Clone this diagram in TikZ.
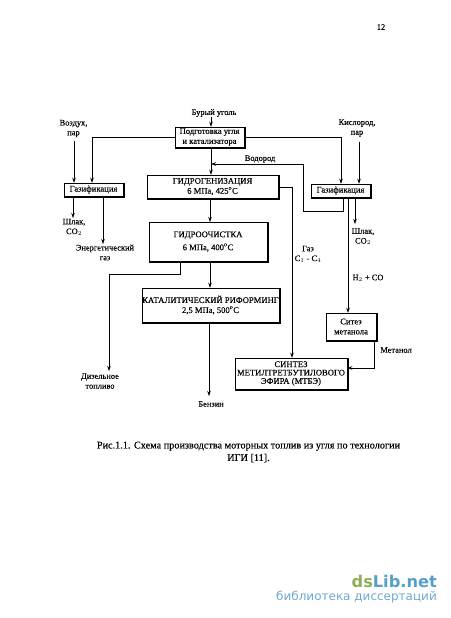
\documentclass[tikz,border=0pt]{standalone}
\usepackage{fontspec}
\setmainfont{Liberation Serif}[FakeBold=0.15]
\newfontfamily\wmfont{DejaVu Sans}
\usetikzlibrary{arrows.meta}
\definecolor{wmgreen}{HTML}{8FAE55}
\definecolor{wmblue}{HTML}{55A0C8}
\definecolor{wmlight}{HTML}{6FA8D0}
\tikzset{
  procbox/.style={draw,fill=white,line width=0.5pt,inner sep=0pt,align=center,font=\fontsize{8.6}{10}\selectfont},
  lab/.style={inner sep=0pt,align=center,font=\fontsize{8.4}{9.8}\selectfont},
  flow/.style={line width=0.5pt,-{Stealth[length=5pt,width=3.5pt]}},
  edge shade/.style={line width=1.1pt,line cap=rect}
}
\begin{document}
\begin{tikzpicture}[x=1pt,y=1pt,yscale=-1,xscale=1]
\useasboundingbox (0,0) rectangle (450,618);

% Boxes
\node [procbox,minimum width=69pt,minimum height=20pt] (prep) at (209.5,137) {Подготовка угля\\и катализатора};
\node [procbox,minimum width=131pt,minimum height=23pt] (hydro) at (212.5,186.5) {ГИДРОГЕНИЗАЦИЯ\\6 МПа, 425$^{\rm o}$С};
\node [procbox,minimum width=118pt,minimum height=39pt] (clean) at (208,241.5) {ГИДРООЧИСТКА\\[3pt]6 МПа, 400$^{\rm o}$С};
\node [procbox,minimum width=137pt,minimum height=34pt] (reform) at (210.5,305) {КАТАЛИТИЧЕСКИЙ РИФОРМИНГ\\2,5 МПа, 500$^{\rm o}$С};
\node [procbox,minimum width=59pt,minimum height=13pt] (gasl) at (93.5,189.5) {Газификация};
\node [procbox,minimum width=59pt,minimum height=13pt] (gasr) at (340.5,190.5) {Газификация};
\node [procbox,minimum width=50pt,minimum height=27pt] (meth) at (351,326.5) {Ситез\\метанола};
\node [procbox,minimum width=112pt,minimum height=31pt,font=\fontsize{8.6}{8.4}\selectfont] (mtbe) at (291,373.5) {СИНТЕЗ\\МЕТИЛТРЕТБУТИЛОВОГО\\ЭФИРА (МТБЭ)};

% Heavy right and lower edges
\foreach \boxname in {prep,hydro,clean,reform,gasl,gasr,meth,mtbe}
  \draw [edge shade] ([xshift=0.8pt,yshift=1pt]\boxname.north east) -- ([xshift=0.8pt,yshift=0.8pt]\boxname.south east) -- ([xshift=1pt,yshift=0.8pt]\boxname.south west);

% Labels
\node [lab] (coal) at (214,113) {Бурый уголь};
\node [lab] (air) at (73.5,128.5) {Воздух,\\пар};
\node [lab] (oxy) at (357,128) {Кислород,\\пар};
\node [lab] (slagl) at (74,227) {Шлак,\\СО$_2$};
\node [lab] (fuel) at (105,252.5) {Энергетический\\газ};
\node [lab] (hyd) at (260,159) {Водород};
\node [lab] (slagr) at (363,236.5) {Шлак,\\СО$_2$};
\node [lab] (gas) at (308,254) {Газ\\С$_1$ - С$_4$};
\node [lab] (syn) at (368,278) {Н$_2$ + СО};
\node [lab] (mlab) at (396,350) {Метанол};
\node [lab] (dies) at (100,381) {Дизельное\\топливо};
\node [lab] (petrol) at (211,404) {Бензин};
\node [lab] (page) at (381,27) {12};
\node [lab,font=\fontsize{10.25}{12.5}\selectfont] (cap) at (248.5,452) {Рис.1.1. Схема производства моторных топлив из угля по технологии\\ИГИ [11].};

% Watermark
\node [inner sep=0pt,anchor=east,font=\wmfont\bfseries\fontsize{16.2}{18}\selectfont] (wm) at (437,581) {\textcolor{wmgreen}{ds}\textcolor{wmblue}{Lib.net}};
\node [inner sep=0pt,anchor=east,text=wmlight,font=\wmfont\fontsize{12}{13}\selectfont] (wmsub) at (437,597) {библиотека диссертаций};

% Free ends
\coordinate (c1) at (92,137);
\coordinate (c2) at (341,137);
\coordinate (c3) at (343,211);
\coordinate (c4) at (303,211);
\coordinate (c5) at (303,164);
\coordinate (c6) at (211,164);
\coordinate (c7) at (292,187);
\coordinate (c8) at (348,197);
\coordinate (c9) at (374,368);
\coordinate (c10) at (180,274);
\coordinate (c11) at (109,274);
\coordinate (c12) at (109,371);
\coordinate (c13) at (73,218);
\coordinate (c14) at (103,244);
\coordinate (c15) at (74,141);
\coordinate (c16) at (359,142);
\coordinate (c17) at (355,224);
\coordinate (c18) at (210,222);
\coordinate (c19) at (209,396);

% Connectors
\draw [flow] (coal.south -| c6) -- (prep.north -| c6);
\draw [flow] (prep.south -| c6) -- (hydro.north -| c6);
\draw [flow] (prep.west |- c1) -- (c1) -- (gasl.north -| c1);
\draw [flow] (c15) -- (gasl.north -| c15);
\draw [flow] (gasl.south -| c13) -- (c13);
\draw [flow] (gasl.south -| c14) -- (c14);
\draw [flow] (prep.east |- c2) -- (c2) -- (gasr.north -| c2);
\draw [flow] (c16) -- (gasr.north -| c16);
\draw [flow] (gasr.south -| c3) -- (c3) -- (c4) -- (c5) -- (c6);
\draw [flow] (gasr.south -| c17) -- (c17);
\draw [flow] (c8) -- (meth.north -| c8);
\draw [flow] (hydro.east |- c7) -- (c7) -- (mtbe.north -| c7);
\draw [flow] (hydro.south -| c18) -- (c18);
\draw [flow] (clean.south -| c18) -- (reform.north -| c18);
\draw [flow] (clean.south -| c10) -- (c10) -- (c11) -- (c12);
\draw [flow] (reform.south -| c19) -- (c19);
\draw [flow] (meth.south -| c9) -- (c9) -- (mtbe.east |- c9);

\end{tikzpicture}
\end{document}
